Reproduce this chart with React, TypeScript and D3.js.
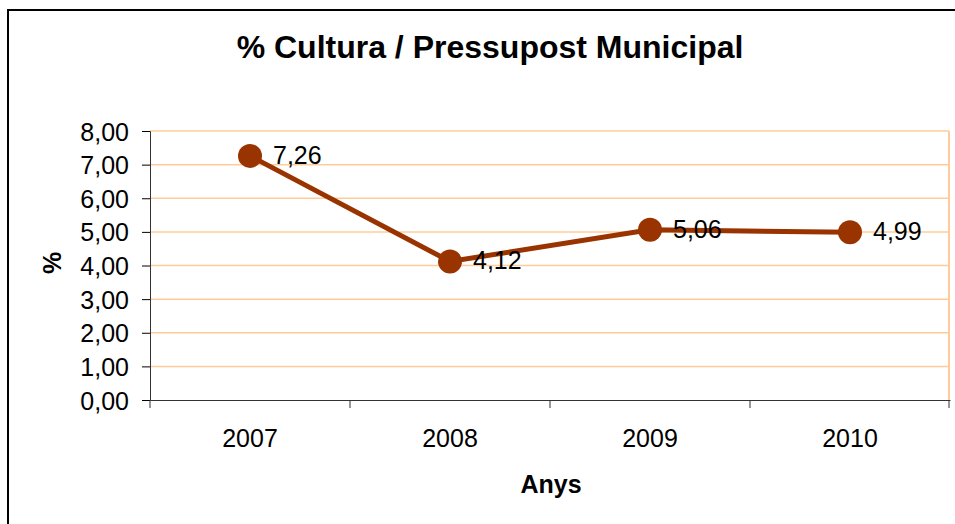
import * as d3 from "d3";
import { useRef, useEffect } from "react";

const years = ["2007", "2008", "2009", "2010"];
const values = [7.26, 4.12, 5.06, 4.99];
const yTicks = [0, 1, 2, 3, 4, 5, 6, 7, 8];

const fmt = (v: number) => v.toFixed(2).replace(".", ",");

export default function App() {
  const ref = useRef<SVGSVGElement>(null);

  useEffect(() => {
    const svg = d3.select(ref.current);
    svg.selectAll("*").remove();
    const width = 955, height = 524;
    const plot = { left: 150, right: 949, top: 131, bottom: 400 };
    const font = "'Liberation Sans', Arial, sans-serif";

    // outer frame
    svg.append("rect")
      .attr("x", 8).attr("y", 10)
      .attr("width", width + 10).attr("height", height + 10)
      .attr("fill", "white").attr("stroke", "black").attr("stroke-width", 2);

    const x = d3.scaleBand().domain(years).range([plot.left, plot.right + 1]);
    const y = d3.scaleLinear().domain([0, 8]).range([plot.bottom, plot.top]);

    // gridlines
    svg.append("g").selectAll("line").data(yTicks.filter(t => t > 0)).join("line")
      .attr("x1", plot.left).attr("x2", plot.right)
      .attr("y1", d => y(d)).attr("y2", d => y(d))
      .attr("stroke", "#ffcc99").attr("stroke-width", 1.5);

    // right border
    svg.append("line")
      .attr("x1", plot.right).attr("x2", plot.right)
      .attr("y1", plot.top).attr("y2", plot.bottom)
      .attr("stroke", "#ffcc99").attr("stroke-width", 2);

    // y axis
    const yAxis = d3.axisLeft(y).tickValues(yTicks).tickFormat(d => fmt(+d)).tickSize(8).tickPadding(13);
    const gy = svg.append("g").attr("transform", `translate(${plot.left},0)`).call(yAxis);
    gy.select(".domain").attr("stroke", "#333");
    gy.selectAll("text").attr("font-size", 25).attr("font-family", font).attr("fill", "black").attr("dy", "0.36em");

    // x axis
    const xAxis = d3.axisBottom(x).tickSize(0).tickPadding(0);
    const gx = svg.append("g").attr("transform", `translate(0,${plot.bottom})`).call(xAxis);
    gx.select(".domain").attr("stroke", "#333");
    gx.selectAll("text").attr("font-size", 25).attr("font-family", font).attr("fill", "black")
      .attr("y", 47).attr("dy", 0);
    const edges = years.map(yr => x(yr)!).concat([plot.right]);
    gx.append("g").selectAll("line").data(edges).join("line")
      .attr("x1", d => d).attr("x2", d => d).attr("y1", 0).attr("y2", 8)
      .attr("stroke", "#333");

    // line
    const line = d3.line<number>()
      .x((_, i) => x(years[i])! + x.bandwidth() / 2)
      .y(d => y(d));
    svg.append("path").datum(values)
      .attr("d", line)
      .attr("fill", "none").attr("stroke", "#993300").attr("stroke-width", 5);

    svg.append("g").selectAll("circle").data(values).join("circle")
      .attr("cx", (_, i) => x(years[i])! + x.bandwidth() / 2)
      .attr("cy", d => y(d))
      .attr("r", 12).attr("fill", "#993300");

    svg.append("g").selectAll("text").data(values).join("text")
      .attr("x", (_, i) => x(years[i])! + x.bandwidth() / 2 + 23)
      .attr("y", d => y(d) + 8)
      .attr("font-size", 25).attr("font-family", font)
      .text(d => fmt(d));

    // titles
    svg.append("text")
      .attr("x", 490).attr("y", 58).attr("text-anchor", "middle")
      .attr("font-size", 32).attr("font-weight", "bold").attr("font-family", font)
      .text("% Cultura / Pressupost Municipal");

    svg.append("text")
      .attr("transform", `translate(61,263) rotate(-90)`).attr("text-anchor", "middle")
      .attr("font-size", 25).attr("font-weight", "bold").attr("font-family", font)
      .text("%");

    svg.append("text")
      .attr("x", 551).attr("y", 493).attr("text-anchor", "middle")
      .attr("font-size", 25).attr("font-weight", "bold").attr("font-family", font)
      .text("Anys");
  }, []);

  return (
    <svg ref={ref} width={955} height={524}
      style={{ position: "absolute", left: 0, top: 0, display: "block" }} />
  );
}
